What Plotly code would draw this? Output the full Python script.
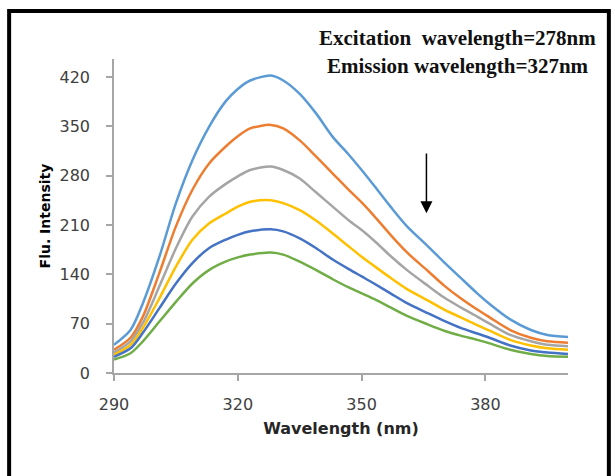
import plotly.graph_objects as go

wavelength = [290, 294, 297, 301, 305, 309, 313, 317, 320, 323, 328, 331, 335, 339,
              343, 347, 350, 353, 357, 361, 366, 370, 374, 378, 381, 386, 391, 395, 400]

s1 = [40, 61, 99, 165, 241, 302, 349, 385, 403, 415, 422, 415, 396, 368,
      335, 309, 288, 266, 236, 208, 180, 157, 135, 113, 98, 76, 61, 54, 51]
s2 = [33, 50, 80, 142, 208, 260, 297, 321, 336, 347, 352, 347, 330, 307,
      283, 259, 242, 223, 196, 171, 145, 124, 106, 90, 79, 61, 50, 45, 43]
s3 = [29, 45, 71, 123, 177, 222, 250, 268, 279, 288, 293, 288, 276, 256,
      236, 216, 203, 188, 166, 146, 124, 107, 93, 80, 70, 54, 45, 40, 38]
s4 = [26, 40, 64, 106, 151, 189, 212, 226, 236, 243, 245, 241, 231, 216,
      198, 179, 165, 152, 135, 119, 103, 90, 79, 68, 60, 47, 39, 35, 33]
s5 = [23, 35, 57, 92, 127, 156, 177, 189, 196, 201, 204, 201, 191, 177,
      161, 147, 137, 127, 113, 99, 85, 74, 64, 56, 50, 39, 32, 29, 27]
s6 = [19, 28, 45, 73, 101, 127, 146, 158, 164, 168, 171, 168, 158, 146,
      133, 121, 113, 105, 93, 81, 69, 60, 53, 47, 42, 33, 27, 24, 23]

series = [s1, s2, s3, s4, s5, s6]
colors = ["#5B9BD5", "#ED7D31", "#A5A5A5", "#FFC000", "#4472C4", "#70AD47"]

x_ticks = [290, 320, 350, 380]
y_ticks = [0, 70, 140, 210, 280, 350, 420]

fig = go.Figure()
for s, c in zip(series, colors):
    fig.add_trace(go.Scatter(x=wavelength, y=s, mode="lines",
                             line=dict(color=c, width=2.5, shape="spline", smoothing=0.8),
                             showlegend=False, hoverinfo="skip"))

tick_font = dict(family="DejaVu Sans", size=16, color="#404040")
fig.update_xaxes(range=[290, 400], tickvals=x_ticks, ticks="outside", ticklen=6,
                 tickcolor="#A6A6A6", tickwidth=1.5, showline=True, linecolor="#A6A6A6",
                 linewidth=1.5, showgrid=False, zeroline=False, tickfont=tick_font,
                 ticklabelstandoff=10,
                 title=dict(text="<b>Wavelength (nm)</b>",
                            font=dict(family="DejaVu Sans", size=16, color="#262626"),
                            standoff=10))
fig.update_yaxes(range=[0, 445.5], tickvals=y_ticks, ticks="outside", ticklen=6,
                 tickcolor="#A6A6A6", tickwidth=1.5, showline=True, linecolor="#A6A6A6",
                 linewidth=1.5, showgrid=False, zeroline=False, tickfont=tick_font,
                 ticklabelstandoff=13,
                 title=dict(text="<b>Flu. Intensity</b>",
                            font=dict(family="DejaVu Sans", size=14, color="#000000"),
                            standoff=6))

fig.add_annotation(x=365.7, y=226.8, ax=365.7, ay=313.7, xref="x", yref="y",
                   axref="x", ayref="y", text="", showarrow=True, arrowhead=2,
                   arrowsize=1.6, arrowwidth=1.5, arrowcolor="#000000")

ann_font = dict(family="Liberation Serif", size=21, color="#111111")
fig.add_annotation(x=0.757, y=1.067, xref="paper", yref="paper", showarrow=False,
                   text="<b>Excitation\u00a0 wavelength=278nm</b>", font=ann_font,
                   xanchor="center", yanchor="middle")
fig.add_annotation(x=0.757, y=0.978, xref="paper", yref="paper", showarrow=False,
                   text="<b>Emission wavelength=327nm</b>", font=ann_font,
                   xanchor="center", yanchor="middle")

fig.add_shape(type="rect", xref="paper", yref="paper",
              x0=-0.231, x1=1.090, y0=-0.40, y1=1.153,
              line=dict(color="#000000", width=4), layer="above")

fig.update_layout(width=615, height=476, margin=dict(l=114, r=47, t=59, b=103),
                  paper_bgcolor="white", plot_bgcolor="white")

fig.write_html("out.html")
